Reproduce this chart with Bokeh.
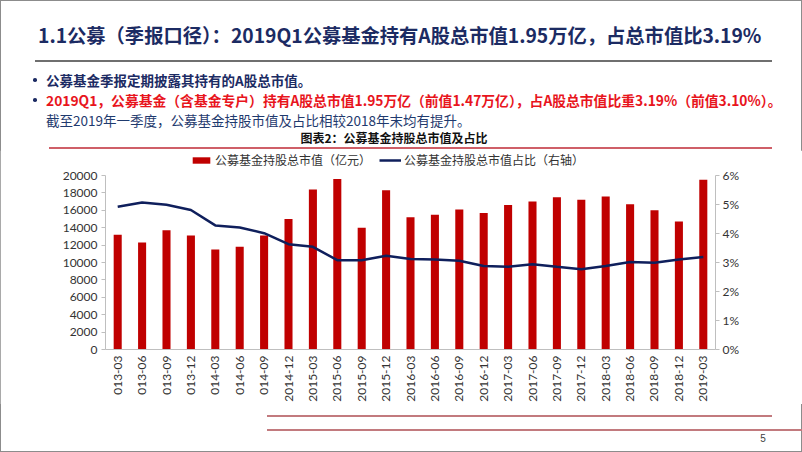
from bokeh.plotting import figure
from bokeh.layouts import column
from bokeh.models import (Range1d, LinearAxis, FixedTicker, PrintfTickFormatter,
                          Legend, LegendItem, ColumnDataSource, FactorRange, Div,
                          CustomJSTickFormatter)
from bokeh.embed import file_html
from bokeh.resources import INLINE

# ---------------- data ----------------
quarters = ["2013-03", "2013-06", "2013-09", "2013-12", "2014-03", "2014-06", "2014-09",
            "2014-12", "2015-03", "2015-06", "2015-09", "2015-12", "2016-03", "2016-06",
            "2016-09", "2016-12", "2017-03", "2017-06", "2017-09", "2017-12", "2018-03",
            "2018-06", "2018-09", "2018-12", "2019-03"]
# tick labels as visible on the slide (the first ones are cut by the footer)
tick_labels = ["013-03", "013-06", "013-09", "013-12", "014-03", "014-06", "014-09",
               "2014-12", "2015-03", "2015-06", "2015-09", "2015-12", "2016-03", "2016-06",
               "2016-09", "2016-12", "2017-03", "2017-06", "2017-09", "2017-12", "2018-03",
               "2018-06", "2018-09", "2018-12", "2019-03"]
market_value = [13200, 12300, 13700, 13100, 11500, 11800, 13100,
                15000, 18400, 19600, 14000, 18300, 15200, 15500,
                16100, 15700, 16600, 17000, 17500, 17200, 17600,
                16700, 16000, 14700, 19500]
share_pct = [4.92, 5.07, 4.99, 4.81, 4.28, 4.21, 4.01,
             3.63, 3.54, 3.08, 3.08, 3.23, 3.12, 3.10,
             3.06, 2.88, 2.85, 2.94, 2.85, 2.77, 2.88,
             3.02, 2.99, 3.10, 3.19]
left_ticks = [0, 2000, 4000, 6000, 8000, 10000, 12000, 14000, 16000, 18000, 20000]
right_ticks = [0, 1, 2, 3, 4, 5, 6]
left_max = 20000
right_max = 6

title_text = "1.1公募（季报口径）：2019Q1公募基金持有A股总市值1.95万亿，占总市值比3.19%"
bullet1 = "公募基金季报定期披露其持有的A股总市值。"
bullet2 = "2019Q1，公募基金（含基金专户）持有A股总市值1.95万亿（前值1.47万亿），占A股总市值比重3.19%（前值3.10%）。"
line3 = "截至2019年一季度，公募基金持股市值及占比相较2018年末均有提升。"
caption = "图表2：公募基金持股总市值及占比"
legend_bar = "公募基金持股总市值（亿元）"
legend_line = "公募基金持股总市值占比（右轴）"
page_no = "5"

CJK = "Noto Sans CJK SC"
NUM = "Lato"
W = 802


def span(x, y, text, size, color, weight=400, center=False, font=CJK):
    lh = round(size * 1.25)
    top = y - lh / 2
    tx = "transform:translateX(-50%);" if center else ""
    return (f'<div style="position:absolute;left:{x}px;top:{top}px;font-family:\'{font}\';'
            f'font-size:{size}px;line-height:{lh}px;color:{color};font-weight:{weight};'
            f'white-space:nowrap;{tx}">{text}</div>')


def rule(x0, x1, y, thick, color):
    return (f'<div style="position:absolute;left:{x0}px;top:{y - thick / 2}px;width:{x1 - x0}px;'
            f'height:{thick}px;background:{color};"></div>')


def dot(x, y, d, color):
    return (f'<div style="position:absolute;left:{x - d / 2}px;top:{y - d / 2}px;width:{d}px;'
            f'height:{d}px;border-radius:50%;background:{color};"></div>')


def panel(h, parts):
    html = (f'<div style="position:relative;width:{W}px;height:{h}px;overflow:hidden;">'
            + "".join(parts) + "</div>")
    return Div(text=html, width=W, height=h, margin=0)


# ---------- header (slide text), y from 0 to 150 ----------
header = panel(150, [
    span(38, 35, title_text, 19.3, "#1c2b63", 700),
    rule(35, 772, 61, 2.5, "#6f6f6f"),
    dot(35, 80, 3.5, "#1c2b63"),
    dot(35, 100, 3.5, "#1c2b63"),
    span(46, 80, bullet1, 13.5, "#1c2b63", 700),
    span(46, 100, bullet2, 13.8, "#e8141c", 700),
    span(46, 120, line3, 13.5, "#1f3a6e", 400),
    span(394, 137, caption, 12, "#111111", 700, center=True),
    rule(49, 772, 148, 1.5, "#cf5f68"),
])

# ---------- chart, y from 150 to 404; plot area 175..349, legend above it ----------
# frame spans y 150..349, so the ranges reach above the axis maxima by 199/174
frame_h, area_h = 199, 174
src = ColumnDataSource(dict(q=quarters, v=market_value, s=share_pct))
p = figure(width=W, height=254, x_range=FactorRange(factors=quarters),
           y_range=Range1d(0, left_max * frame_h / area_h), output_backend="svg",
           toolbar_location=None,
           min_border_left=105, min_border_right=87, min_border_top=0, min_border_bottom=55)
p.extra_y_ranges = {"pct": Range1d(0, right_max * frame_h / area_h)}
p.outline_line_color = None
p.xgrid.visible = False
p.ygrid.visible = False

bars = p.vbar(x="q", top="v", width=0.33, source=src, fill_color="#c00000", line_color=None)
ln = p.line(x="q", y="s", source=src, y_range_name="pct", line_color="#0f1f5c", line_width=2.5)

ax = p.xaxis[0]
ax.formatter = CustomJSTickFormatter(args=dict(keys=quarters, labels=tick_labels), code="""
    const i = keys.indexOf(tick);
    return i >= 0 ? labels[i] : tick;
""")
ax.major_label_orientation = 1.5707963
ax.axis_line_color = "#bfbfbf"
ax.major_tick_line_color = None
ax.major_tick_out = 0
ax.major_tick_in = 0
ax.minor_tick_line_color = None
ax.major_label_text_font = NUM
ax.major_label_text_font_size = "12px"
ax.major_label_text_color = "#333333"
ax.major_label_standoff = 6

ay = p.yaxis[0]
ay.ticker = FixedTicker(ticks=left_ticks)
ay.bounds = (0, left_max)
ay.axis_line_color = "#bfbfbf"
ay.major_tick_line_color = "#bfbfbf"
ay.major_tick_out = 4
ay.major_tick_in = 0
ay.minor_tick_line_color = None
ay.major_label_text_font = NUM
ay.major_label_text_font_size = "12px"
ay.major_label_text_color = "#333333"
ay.major_label_standoff = 4

ry = LinearAxis(y_range_name="pct", ticker=FixedTicker(ticks=right_ticks),
                formatter=PrintfTickFormatter(format="%d%%"), bounds=(0, right_max))
ry.axis_line_color = "#bfbfbf"
ry.major_tick_line_color = "#bfbfbf"
ry.major_tick_out = 4
ry.major_tick_in = 0
ry.minor_tick_line_color = None
ry.major_label_text_font = NUM
ry.major_label_text_font_size = "12px"
ry.major_label_text_color = "#333333"
ry.major_label_standoff = 3
p.add_layout(ry, "right")

leg = Legend(items=[LegendItem(label=legend_bar, renderers=[bars]),
                    LegendItem(label=legend_line, renderers=[ln])],
             orientation="horizontal", location=(85, 181),
             glyph_width=22, glyph_height=8, label_height=14, label_standoff=3, spacing=8,
             padding=0, margin=0, border_line_color=None, background_fill_alpha=0,
             label_text_font=CJK, label_text_font_size="12px", label_text_color="#333333")
p.add_layout(leg)

# ---------- footer, y from 404 to 452 ----------
footer = panel(48, [
    rule(267, 772, 12, 2.5, "#c27a7e"),
    rule(267, 802, 26, 2.5, "#c27a7e"),
    span(763, 35, page_no, 10, "#404040", 400, center=True, font="Liberation Sans"),
])

layout = column(header, p, footer, spacing=0,
                styles={"outline": "1.5px solid #8c8c8c", "outline-offset": "-1.5px"})
open("out.html", "w").write(file_html(layout, INLINE))
